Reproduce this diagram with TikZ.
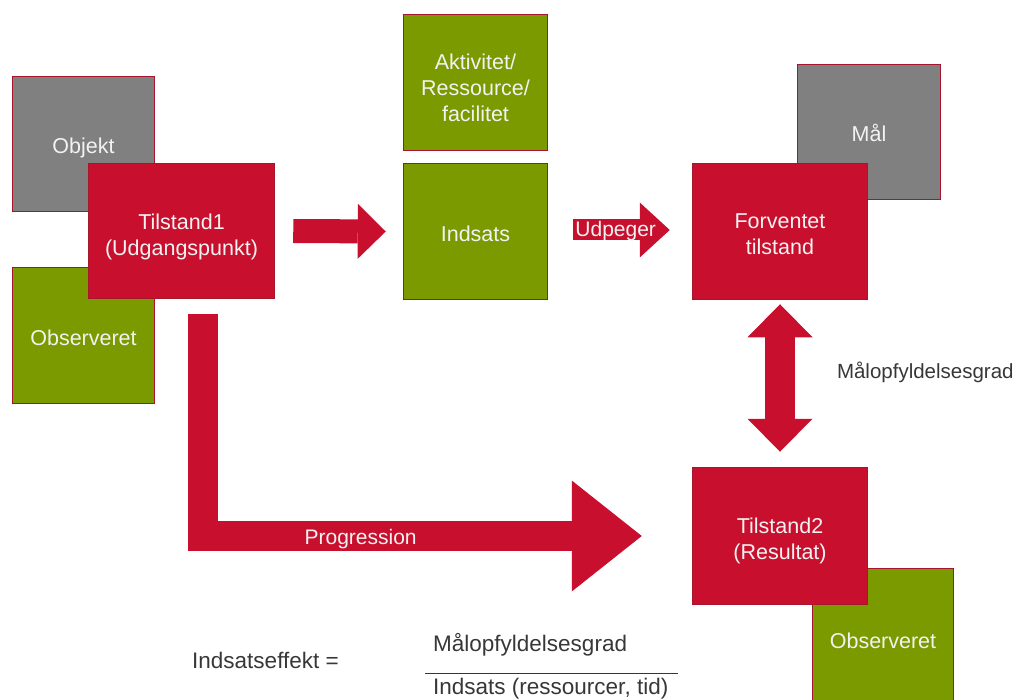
\documentclass[tikz,border=0pt]{standalone}
\usepackage{fontspec}
\setmainfont{Liberation Sans}
\usetikzlibrary{arrows.meta}
\definecolor{boxred}{RGB}{200,16,46}
\definecolor{boxgreen}{RGB}{122,154,0}
\definecolor{boxgray}{RGB}{128,128,128}
\definecolor{boxedge}{RGB}{165,22,44}
\definecolor{inktext}{RGB}{55,55,55}
\definecolor{boxtext}{RGB}{242,242,242}
\tikzstyle{Box}=[rectangle, draw=boxedge, line width=1.5pt, inner sep=0pt]
\tikzstyle{RedBox}=[Box, fill=boxred]
\tikzstyle{GreenBox}=[Box, fill=boxgreen]
\tikzstyle{GrayBox}=[Box, fill=boxgray]
\tikzstyle{BoxText}=[text=boxtext, align=center, inner sep=0pt, yshift=-4pt, font=\fontsize{21.5}{26}\selectfont]
\tikzstyle{Flow}=[draw=boxred, line cap=butt, line join=miter]
\tikzstyle{FlowText}=[text=boxtext, inner sep=0pt, font=\fontsize{21}{25}\selectfont]
\tikzstyle{Label}=[text=inktext, inner sep=0pt, font=\fontsize{20.5}{24}\selectfont]
\tikzstyle{Formula}=[text=inktext, anchor=west, inner sep=0pt, font=\fontsize{22.5}{27}\selectfont]

\begin{document}
\begin{tikzpicture}[x=1pt, y=-1pt]
    \useasboundingbox (0,0) rectangle (1027,700);
    \path
    (83.5,144) node[GrayBox, minimum width=142pt, minimum height=135pt, label={[BoxText]center:Objekt}] (objekt) {}
    (83.5,335.5) node[GreenBox, minimum width=142pt, minimum height=136pt, label={[BoxText, yshift=2pt]center:Observeret}] (obs1) {}
    (181.5,231) node[RedBox, minimum width=186pt, minimum height=135pt, label={[BoxText, yshift=-2pt]center:{Tilstand1\\(Udgangspunkt)}}] (t1) {}
    (475.5,82.5) node[GreenBox, minimum width=144pt, minimum height=136pt, label={[BoxText, yshift=-1pt]center:{Aktivitet/\\Ressource/\\facilitet}}] (aktivitet) {}
    (475.5,231.5) node[GreenBox, minimum width=144pt, minimum height=136pt, label={[BoxText, yshift=2pt]center:Indsats}] (indsats) {}
    (869,132) node[GrayBox, minimum width=143pt, minimum height=135pt, label={[BoxText, yshift=3pt]center:Mål}] (maal) {}
    (780,231.5) node[RedBox, minimum width=175pt, minimum height=136pt, label={[BoxText, yshift=1pt]center:{Forventet\\tilstand}}] (forventet) {}
    (883,636.5) node[GreenBox, minimum width=141pt, minimum height=136pt, label={[BoxText]center:Observeret}] (obs2) {}
    (780,536) node[RedBox, minimum width=175pt, minimum height=137pt, label={[BoxText, yshift=-1pt]center:{Tilstand2\\(Resultat)}}] (t2) {};

    \draw[Flow, line width=24pt, -{Triangle[length=28pt, width=55pt, line width=0pt]}] ([xshift=18pt]t1.east) -- ([xshift=-17pt]indsats.west);
    \draw[Flow, line width=21pt, -{Triangle[length=30pt, width=55pt, line width=0pt]}] ([xshift=25pt, yshift=1.5pt]indsats.east) -- ([xshift=-22pt, yshift=1.5pt]forventet.west) node[FlowText, pos=0.44, yshift=-1pt] {Udpeger};
    \draw[Flow, line width=30pt, {Triangle[length=33pt, width=65pt, line width=0pt]}-{Triangle[length=33pt, width=65pt, line width=0pt]}] ([yshift=-4pt]forventet.south) -- ([yshift=15pt]t2.north) node[Label, midway, anchor=west, xshift=42pt, yshift=6pt] {Målopfyldelsesgrad};
    \draw[Flow, line width=30pt, -{Triangle[length=70pt, width=111pt, line width=0pt]}] ([xshift=21pt, yshift=-15pt]t1.south) |- ([xshift=-50pt]t2.west) node[FlowText, pos=0.68, yshift=-3pt] {Progression};

    \path (192,660) node[Formula] (effekt) {Indsatseffekt =}
    (433,645) node[Formula] (taeller) {Målopfyldelsesgrad}
    (433,688.5) node[Formula] (naevner) {Indsats (ressourcer, tid)};
    \draw[draw=inktext, line width=1.2pt] ([xshift=-8pt, yshift=4pt]naevner.north west) -- ([xshift=10pt, yshift=4pt]naevner.north east);
\end{tikzpicture}
\end{document}
